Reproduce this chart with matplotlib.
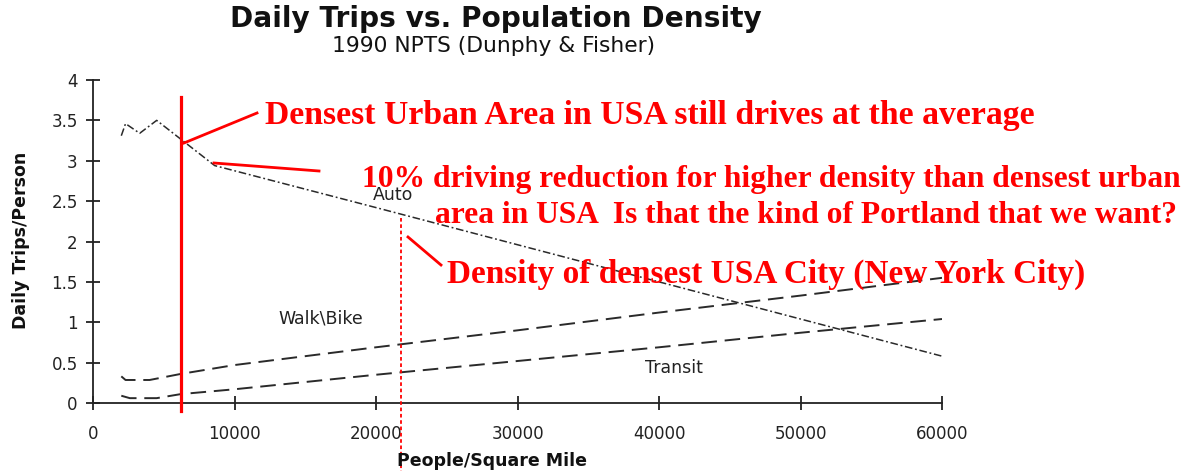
import matplotlib
matplotlib.use("Agg")
import matplotlib.pyplot as plt
from matplotlib.lines import Line2D

# ---------------- data ----------------
auto_density = [2000, 2300, 3300, 4500, 8600, 20000, 30000, 40000, 50000, 60000]
auto_trips = [3.31, 3.46, 3.34, 3.50, 2.94, 2.42, 1.96, 1.50, 1.04, 0.58]

walk_density = [2000, 2300, 4000, 6200, 10000, 20000, 30000, 40000, 50000, 60000]
walk_trips = [0.33, 0.285, 0.285, 0.36, 0.47, 0.69, 0.90, 1.12, 1.33, 1.55]

transit_density = [2000, 2600, 4500, 6200, 10000, 20000, 30000, 40000, 50000, 60000]
transit_trips = [0.09, 0.06, 0.06, 0.11, 0.17, 0.35, 0.52, 0.69, 0.87, 1.04]

x_ticks = [0, 10000, 20000, 30000, 40000, 50000, 60000]
y_ticks = [0, 0.5, 1, 1.5, 2, 2.5, 3, 3.5, 4]
y_tick_labels = ["0", "0.5", "1", "1.5", "2", "2.5", "3", "3.5", "4"]

densest_urban_area = 6200   # red solid marker line
nyc_density = 21800         # red dotted marker line

title = "Daily Trips vs. Population Density"
subtitle = "1990 NPTS (Dunphy & Fisher)"
notes = [
    "Densest Urban Area in USA still drives at the average",
    "10% driving reduction for higher density than densest urban",
    "area in USA  Is that the kind of Portland that we want?",
    "Density of densest USA City (New York City)",
]

# ---------------- figure ----------------
W, H = 1198, 471
fig = plt.figure(figsize=(W / 100, H / 100), dpi=100)
ax = fig.add_axes([93 / W, 68 / H, 849 / W, 323 / H])

def fx(x):
    return x / W

def fy(y):
    return 1 - y / H

line_col = "#2a2a2a"
ax.plot(auto_density, auto_trips, color=line_col, lw=1.1, dashes=(5, 1.8, 1.2, 1.8))
ax.plot(walk_density, walk_trips, color=line_col, lw=1.4, dashes=(8, 4))
ax.plot(transit_density, transit_trips, color=line_col, lw=1.4, dashes=(8, 4))

ax.set_xlim(0, 60000)
ax.set_ylim(0, 4)
ax.set_xticks(x_ticks)
ax.set_xticklabels([str(v) for v in x_ticks])
ax.set_yticks(y_ticks)
ax.set_yticklabels(y_tick_labels)
for s in ("top", "right"):
    ax.spines[s].set_visible(False)
for s in ("left", "bottom"):
    ax.spines[s].set_linewidth(1.3)
    ax.spines[s].set_color("#222222")
ax.tick_params(axis="both", direction="inout", length=10, width=1.3, color="#222222",
               labelsize=12, labelcolor="#222222")
ax.tick_params(axis="x", pad=11)
ax.tick_params(axis="y", pad=6)

# series labels
ax.text(19800, 2.51, "Auto", fontsize=12.5, color="#222222", va="baseline")
ax.text(13070, 0.99, "Walk\\Bike", fontsize=12.5, color="#222222", va="baseline")
ax.text(39010, 0.37, "Transit", fontsize=12.5, color="#222222", va="baseline")

# axis labels
fig.text(fx(21), fy(240), "Daily Trips/Person", rotation=90, fontsize=12.5,
         fontweight="bold", ha="center", va="center", color="#111111")
fig.text(fx(492), fy(461), "People/Square Mile", fontsize=12.5,
         fontweight="bold", ha="center", va="center", color="#111111")

renderer = fig.canvas.get_renderer()

def fit_text(x, y, s, target_w, fs, **kw):
    t = fig.text(x, y, s, fontsize=fs, **kw)
    w = t.get_window_extent(renderer=renderer).width
    t.set_fontsize(fs * target_w / w)
    return t

# title
fit_text(fx(496), fy(27), title, 532, 16, fontweight="bold", ha="center",
         va="baseline", color="#111111")
fit_text(fx(493), fy(52), subtitle, 323, 11, ha="center", va="baseline",
         color="#111111")

# red markers
red = "#ff0000"
ax.plot([densest_urban_area, densest_urban_area], [3.79, -0.1], color=red, lw=2.3,
        clip_on=False, zorder=5)
ax.plot([nyc_density, nyc_density], [2.29, -0.84], color=red, lw=1.3,
        dashes=(2, 1.5), clip_on=False, zorder=5)

for (x0, y0, x1, y1) in [(184, 143, 257, 113), (214, 163, 319, 171), (408, 237, 441, 265)]:
    fig.add_artist(Line2D([fx(x0), fx(x1)], [fy(y0), fy(y1)], color=red, lw=2.0))

red_kw = dict(family="Liberation Serif", fontweight="bold", color=red,
              ha="left", va="baseline")
fit_text(fx(265), fy(124), notes[0], 770, 22, **red_kw)
fit_text(fx(362), fy(187), notes[1], 820, 22, **red_kw)
fit_text(fx(435), fy(223), notes[2], 743, 22, **red_kw)
fit_text(fx(447), fy(283), notes[3], 636, 22, **red_kw)

fig.savefig("out.png", dpi=100)
